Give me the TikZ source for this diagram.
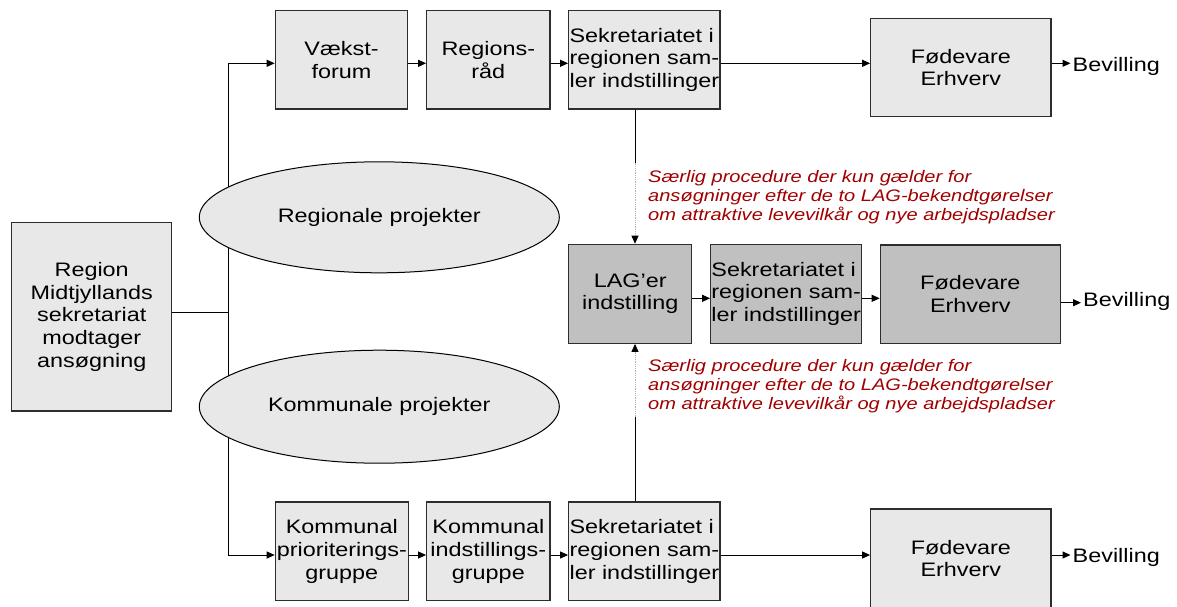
\documentclass[tikz,border=0pt]{standalone}
\usepackage{fontspec}
\setmainfont{Liberation Sans}[FakeStretch=1.2]
\usetikzlibrary{arrows.meta,shapes.geometric}
\definecolor{boxlight}{RGB}{232,232,232}
\definecolor{boxdark}{RGB}{192,192,192}
\definecolor{notered}{RGB}{160,0,0}
\definecolor{edgecol}{RGB}{45,45,45}
\begin{document}
\begin{tikzpicture}[x=1pt,y=-1pt,
 txt/.style={font=\fontsize{19.5}{22.8}\selectfont},
 box/.style={txt, draw=edgecol, line width=1.2pt, fill=boxlight, rectangle, inner sep=0pt, align=center},
 darkbox/.style={box, fill=boxdark},
 oval/.style={txt, draw=black, line width=1pt, fill=boxlight, ellipse, inner sep=0pt, minimum width=360pt, minimum height=111pt},
 arr/.style={line width=1pt, -{Triangle[length=8pt,width=7pt]}},
 plain/.style={line width=1pt},
 dots/.style={line width=0.8pt, draw=gray!60, densely dotted, -{Triangle[length=8pt,width=7pt,color=black]}},
 note/.style={font=\fontsize{16.7}{19}\selectfont\itshape, text=notered, align=left, anchor=west, inner sep=0pt},
 bev/.style={txt, anchor=west, inner sep=2pt}]
\useasboundingbox (0,0) rectangle (1177,606);
\fill[white] (0,0) rectangle (1177,606);

% boxes
\node[box, minimum width=160pt, minimum height=188.3pt] (region) at (91.7,316.9) {Region\\Midtjyllands\\sekretariat\\modtager\\ansøgning};
\node[box, minimum width=132.4pt, minimum height=98.3pt] (vaekst) at (341.5,59.85) {Vækst-\\forum};
\node[box, minimum width=123.3pt, minimum height=98.3pt] (regions) at (488.35,59.85) {Regions-\\råd};
\node[box, minimum width=151.3pt, minimum height=98.3pt, align=left] (sekr1) at (644.35,59.85) {Sekretariatet i\\regionen sam-\\ler indstillinger};
\node[box, minimum width=180.3pt, minimum height=98.4pt] (fod1) at (960.85,67.5) {Fødevare\\Erhverv};

\node[darkbox, minimum width=123pt, minimum height=99pt] (lag) at (630.2,293.8) {LAG’er\\indstilling};
\node[darkbox, minimum width=151pt, minimum height=99pt, align=left] (sekr2) at (786.2,293.8) {Sekretariatet i\\regionen sam-\\ler indstillinger};
\node[darkbox, minimum width=180pt, minimum height=98.3pt] (fod2) at (970.3,294.1) {Fødevare\\Erhverv};

\node[box, minimum width=133pt, minimum height=98.3pt] (komp) at (341.8,551.15) {Kommunal\\prioriterings-\\gruppe};
\node[box, minimum width=123.3pt, minimum height=98.3pt] (komi) at (488.35,551.15) {Kommunal\\indstillings-\\gruppe};
\node[box, minimum width=151.3pt, minimum height=98.3pt, align=left] (sekr3) at (644.35,551.15) {Sekretariatet i\\regionen sam-\\ler indstillinger};
\node[box, minimum width=180.3pt, minimum height=99pt] (fod3) at (960.85,558.5) {Fødevare\\Erhverv};

% Bevilling labels
\node[bev] (bev1) at (1070.5,66.5) {Bevilling};
\node[bev] (bev2) at (1081,301.5) {Bevilling};
\node[bev] (bev3) at (1070.5,557) {Bevilling};

% row coordinates
\coordinate (r1) at (0,63.3);
\coordinate (r2) at (0,298.3);
\coordinate (r2b) at (0,302.7);
\coordinate (r3) at (0,555);

% tree from region box
\coordinate (j) at (228.3,312.7);
\draw[plain] (region.east |- j) -- (j);
\draw[arr] (j) |- (vaekst.west |- r1);
\draw[arr] (j) |- (komp.west |- r3);

% top row
\draw[arr] (vaekst.east |- r1) -- (regions.west |- r1);
\draw[arr] (regions.east |- r1) -- (sekr1.west |- r1);
\draw[arr] (sekr1.east |- r1) -- (fod1.west |- r1);
\draw[arr] (fod1.east |- r1) -- (bev1.west |- r1);

% middle row
\draw[arr] (lag.east |- r2) -- (sekr2.west |- r2);
\draw[arr] (sekr2.east |- r2) -- (fod2.west |- r2);
\draw[arr] (fod2.east |- r2b) -- (bev2.west |- r2b);

% bottom row
\draw[arr] (komp.east |- r3) -- (komi.west |- r3);
\draw[arr] (komi.east |- r3) -- (sekr3.west |- r3);
\draw[arr] (sekr3.east |- r3) -- (fod3.west |- r3);
\draw[arr] (fod3.east |- r3) -- (bev3.west |- r3);

% vertical links to LAG
\coordinate (v1) at ([xshift=-9.35pt]sekr1.south);
\draw[plain] (v1) -- ++(0,53) coordinate (v1m);
\draw[dots] (v1m) -- (lag.north -| v1m);
\coordinate (v2) at ([xshift=-9.35pt]sekr3.north);
\draw[plain] (v2) -- ++(0,-84.3) coordinate (v2m);
\draw[dots] (v2m) -- (lag.south -| v2m);

% notes
\node[note] (n1) at (648,196.7) {Særlig procedure der kun gælder for\\ansøgninger efter de to LAG-bekendtgørelser\\om attraktive levevilkår og nye arbejdspladser};
\node[note] (n2) at (648,385.7) {Særlig procedure der kun gælder for\\ansøgninger efter de to LAG-bekendtgørelser\\om attraktive levevilkår og nye arbejdspladser};

% ellipses (over the tree line)
\node[oval] (regional) at (379.3,217.3) {Regionale projekter};
\node[oval, minimum height=113pt] (kommunal) at (379.3,406.7) {Kommunale projekter};
\end{tikzpicture}
\end{document}
